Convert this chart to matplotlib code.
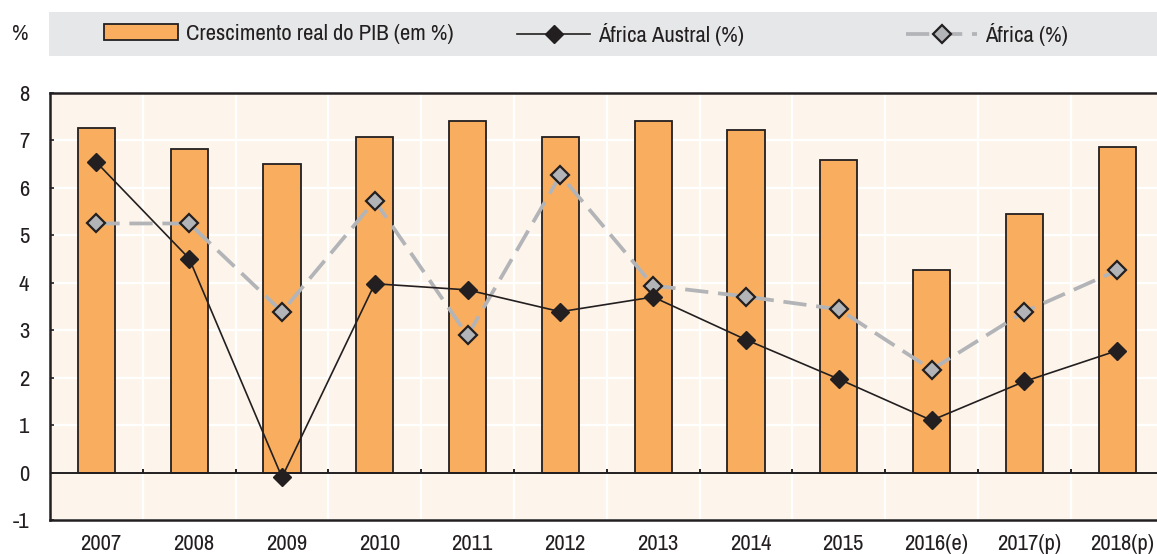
import matplotlib
matplotlib.use("Agg")
import matplotlib.pyplot as plt
import matplotlib.transforms as mtransforms
import numpy as np
from matplotlib.patches import Rectangle, Patch
from matplotlib.lines import Line2D
from matplotlib import font_manager as fm

available = set(f.name for f in fm.fontManager.ttflist)
preferred = ['Liberation Sans Narrow', 'Arial Narrow', 'Archivo Narrow', 'Roboto Condensed',
             'PT Sans Narrow', 'IBM Plex Sans Condensed', 'Fira Sans Condensed',
             'Asap Condensed', 'Encode Sans Condensed', 'Barlow Semi Condensed',
             'Sofia Sans Condensed', 'Open Sans Condensed', 'Pragati Narrow']
chosen = next((p for p in preferred if p in available), 'DejaVu Sans')
plt.rcParams['font.family'] = [chosen, 'DejaVu Sans']

categories = ["2007", "2008", "2009", "2010", "2011", "2012", "2013", "2014",
              "2015", "2016(e)", "2017(p)", "2018(p)"]
pib = [7.27, 6.82, 6.50, 7.08, 7.41, 7.08, 7.41, 7.23, 6.59, 4.26, 5.44, 6.87]
africa_austral = [6.54, 4.51, -0.10, 3.98, 3.85, 3.39, 3.70, 2.80, 1.97, 1.10, 1.92, 2.57]
africa = [5.25, 5.25, 3.39, 5.73, 2.89, 6.27, 3.94, 3.71, 3.44, 2.17, 3.39, 4.26]
yticks = [-1, 0, 1, 2, 3, 4, 5, 6, 7, 8]

W, H = 1157, 554
fig = plt.figure(figsize=(W / 100, H / 100), dpi=100)

BG = '#FDF5EB'
BAR = '#F9AE5F'
DARK = '#231F20'
GRAY = '#B2B4B7'
FS = 16.3

left, right, top, bottom = 50, 1163.6, 93, 520
ax = fig.add_axes([left / W, 1 - bottom / H, (right - left) / W, (bottom - top) / H])
ax.set_facecolor(BG)

x = np.arange(len(categories))
ax.set_xlim(-0.5, len(categories) - 0.5)
ax.set_ylim(-1, 8)

# grid
for yv in yticks:
    ax.axhline(yv, color='white', lw=1.6, zorder=0.5)
bounds = np.arange(len(categories) - 1) + 0.5
for b in bounds:
    ax.axvline(b, color='white', lw=1.6, zorder=0.5)

ax.bar(x, pib, width=0.4, color=BAR, edgecolor=DARK, linewidth=1.3, zorder=2)
ax.axhline(0, color=DARK, lw=1.4, zorder=2.5)
ax.vlines(bounds, 0, 0.08, color=DARK, lw=1.4, zorder=2.5)

ax.plot(x, africa, color=GRAY, lw=2.7, ls=(0, (6.2, 2.6)), marker='D', ms=9,
        markerfacecolor=GRAY, markeredgecolor=DARK, markeredgewidth=1.6, zorder=3)
ax.plot(x, africa_austral, color=DARK, lw=1.2, marker='D', ms=9,
        markerfacecolor=DARK, markeredgecolor=DARK, zorder=4)

for side in ['left', 'top', 'bottom']:
    ax.spines[side].set_color(DARK)
    ax.spines[side].set_linewidth(1.8)
ax.spines['right'].set_visible(False)

ax.set_yticks(yticks)
ax.set_yticklabels([str(v) for v in yticks])
ax.set_xticks(x)
ax.set_xticklabels(categories)
ax.tick_params(axis='y', direction='in', length=3, width=1.2, color=DARK,
               labelsize=FS, pad=15, labelcolor=DARK)
ax.tick_params(axis='x', length=0, labelsize=FS, pad=10, labelcolor=DARK)
shift = mtransforms.ScaledTranslation(4.5 / 100, 0, fig.dpi_scale_trans)
for lab in ax.get_xticklabels():
    lab.set_transform(lab.get_transform() + shift)

# legend band
fig.patches.append(Rectangle((49 / W, 1 - 56 / H), 1 - 49 / W, 44 / H,
                             transform=fig.transFigure, facecolor='#E6E7E8',
                             edgecolor='none', zorder=0))
fig.text(20 / W, 1 - 34 / H, '%', fontsize=FS, color=DARK, ha='center', va='center')

h1 = Patch(facecolor=BAR, edgecolor=DARK, linewidth=1.3)
h2 = Line2D([], [], color=DARK, lw=1.2, marker='D', ms=9, markerfacecolor=DARK,
            markeredgecolor=DARK)
h3 = Line2D([], [], color=GRAY, lw=2.7, ls=(0, (6.2, 2.6)), marker='D', ms=9,
            markerfacecolor=GRAY, markeredgecolor=DARK, markeredgewidth=1.6)

fs_px = FS * 100 / 72
common = dict(frameon=False, fontsize=FS, borderpad=0, borderaxespad=0,
              handletextpad=8 / fs_px, loc='center left', labelcolor=DARK)
leg1 = fig.legend([h1], ['Crescimento real do PIB (em %)'],
                  bbox_to_anchor=(104 / W, 1 - 34 / H),
                  handlelength=74 / fs_px, handleheight=16 / fs_px, **common)
leg2 = fig.legend([h2], ['África Austral (%)'],
                  bbox_to_anchor=(517 / W, 1 - 34 / H),
                  handlelength=73 / fs_px, **common)
leg3 = fig.legend([h3], ['África (%)'],
                  bbox_to_anchor=(906 / W, 1 - 34 / H),
                  handlelength=71 / fs_px, **common)

fig.savefig('out.png', dpi=100, facecolor='white')
